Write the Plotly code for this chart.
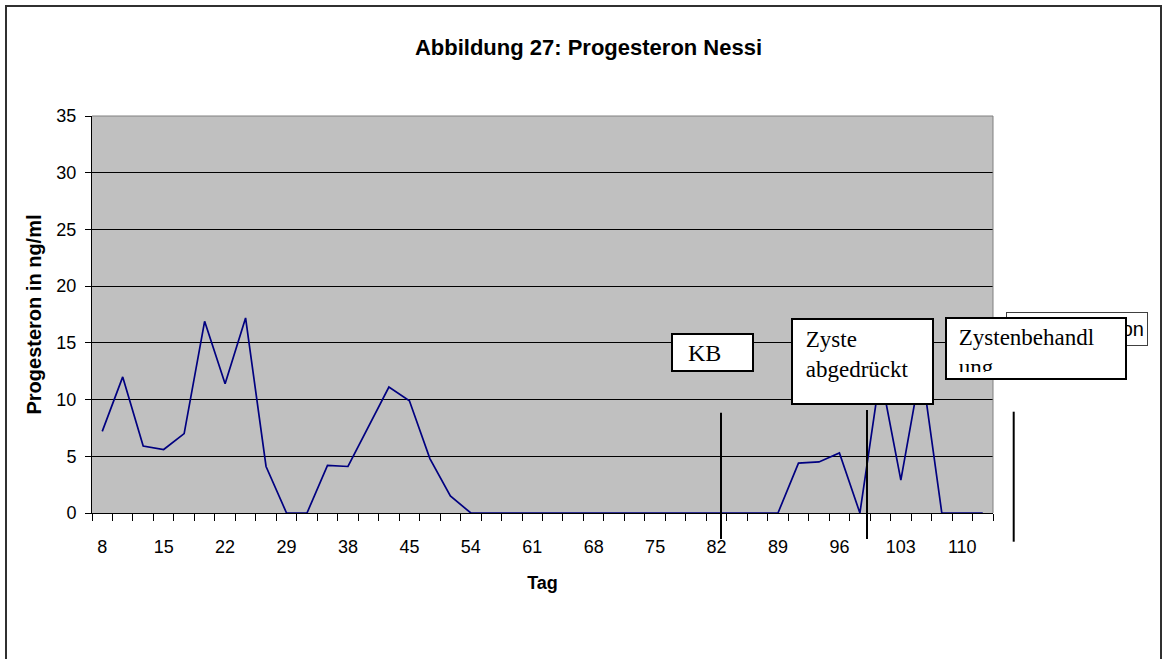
import plotly.graph_objects as go

# ---- data ----
tick_labels = ["8", "15", "22", "29", "38", "45", "54", "61", "68", "75", "82", "89", "96", "103", "110"]
progesteron = [7.2, 12.0, 5.9, 5.6, 7.0, 16.9, 11.4, 17.2, 4.1, 0, 0, 4.2, 4.1, 7.6, 11.1, 9.9, 4.8, 1.5,
               0, 0, 0, 0, 0, 0, 0, 0, 0, 0, 0, 0, 0, 0, 0, 0,
               4.4, 4.5, 5.3, 0, 12.3, 2.9, 13.0, 0, 0, 0]
n_cat = len(progesteron)
x_idx = list(range(n_cat))
label_idx = list(range(0, n_cat, 3))[:len(tick_labels)]

W, H = 1162, 659
ML, MR, MT, MB = 92, 169, 116, 146
PW, PH = W - ML - MR, H - MT - MB


def px(xp):
    return (xp - ML) / PW


def py(yp):
    return (H - MB - yp) / PH


fig = go.Figure()
fig.add_trace(go.Scatter(x=x_idx, y=progesteron, mode="lines",
                         line=dict(color="#000080", width=1.7), showlegend=False,
                         cliponaxis=False))

sans = "Liberation Sans, Arial, sans-serif"
serif = "Liberation Serif, Times New Roman, serif"

fig.update_layout(
    width=W, height=H,
    margin=dict(l=ML, r=MR, t=MT, b=MB, autoexpand=False),
    paper_bgcolor="white", plot_bgcolor="#C0C0C0",
    font=dict(family=sans, color="black"),
    title=dict(text="<b>Abbildung 27: Progesteron Nessi</b>", x=588.5 / W, xanchor="center",
               y=1 - 47 / H, yanchor="middle", xref="container", yref="container",
               font=dict(size=22, family=sans, color="black")),
    xaxis=dict(range=[-0.5, n_cat - 0.5], tickmode="array", tickvals=label_idx, ticktext=tick_labels,
               ticks="", showgrid=False, zeroline=False, showline=True, linecolor="black", linewidth=1,
               tickfont=dict(size=18), ticklabelstandoff=17,
               minor=dict(tickmode="array", tickvals=[i - 0.5 for i in range(n_cat + 1)],
                          ticks="outside", ticklen=7, tickcolor="black", tickwidth=1, showgrid=False),
               title=dict(text="<b>Tag</b>", font=dict(size=18), standoff=20)),
    yaxis=dict(range=[0, 35], dtick=5, ticks="outside", ticklen=6, tickcolor="black",
               showgrid=True, gridcolor="black", gridwidth=1, zeroline=False,
               showline=True, linecolor="black", linewidth=1,
               tickfont=dict(size=18), ticklabelstandoff=5,
               title=dict(text="<b>Progesteron in ng/ml</b>", font=dict(size=20), standoff=9)),
)

shapes = [
    # outer chart frame
    dict(type="rect", xref="paper", yref="paper", x0=px(6), x1=px(1161), y0=py(720), y1=py(6),
         line=dict(color="#303030", width=2), fillcolor="rgba(0,0,0,0)", layer="above"),
    # plot area border (top/right)
    dict(type="line", xref="paper", yref="paper", x0=0, x1=1, y0=1, y1=1,
         line=dict(color="#808080", width=1), layer="above"),
    dict(type="line", xref="paper", yref="paper", x0=1, x1=1, y0=0, y1=1,
         line=dict(color="#808080", width=1), layer="above"),
]
# event marker lines
for xl, yt, yb in [(721, 412.7, 539), (867, 410, 539), (1013.7, 411.7, 541.7)]:
    shapes.append(dict(type="line", xref="paper", yref="paper", x0=px(xl), x1=px(xl), y0=py(yb), y1=py(yt),
                       line=dict(color="black", width=2), layer="above"))
fig.update_layout(shapes=shapes)

annotations = [
    dict(text="&nbsp;&nbsp;KB", xref="paper", yref="paper", x=px(670.7), y=py(332.7),
         xanchor="left", yanchor="top", showarrow=False, align="left", valign="middle",
         width=73, height=29, borderpad=3, borderwidth=2, bordercolor="black", bgcolor="white",
         font=dict(family=serif, size=24, color="black")),
    dict(text="&nbsp;Zyste<br>&nbsp;abgedrückt", xref="paper", yref="paper", x=px(790.7), y=py(317.7),
         xanchor="left", yanchor="top", showarrow=False, align="left", valign="top",
         width=125, height=69, borderpad=7, borderwidth=2, bordercolor="black", bgcolor="white",
         font=dict(family=serif, size=23, color="black")),
    dict(text="Ovulation", xref="paper", yref="paper", x=px(1005.7), y=py(311.7),
         xanchor="left", yanchor="top", showarrow=False, align="right", valign="middle",
         width=134, height=26, borderpad=3, borderwidth=1, bordercolor="#404040", bgcolor="white",
         font=dict(family=sans, size=20, color="black")),
    dict(text="&nbsp;Zystenbehandl<br>&nbsp;ung", xref="paper", yref="paper", x=px(945.3), y=py(316.7),
         xanchor="left", yanchor="top", showarrow=False, align="left", valign="top",
         width=166, height=47, borderpad=6, borderwidth=2, bordercolor="black", bgcolor="white",
         font=dict(family=serif, size=23, color="black")),
]
fig.update_layout(annotations=annotations)

fig.write_html("out.html")
